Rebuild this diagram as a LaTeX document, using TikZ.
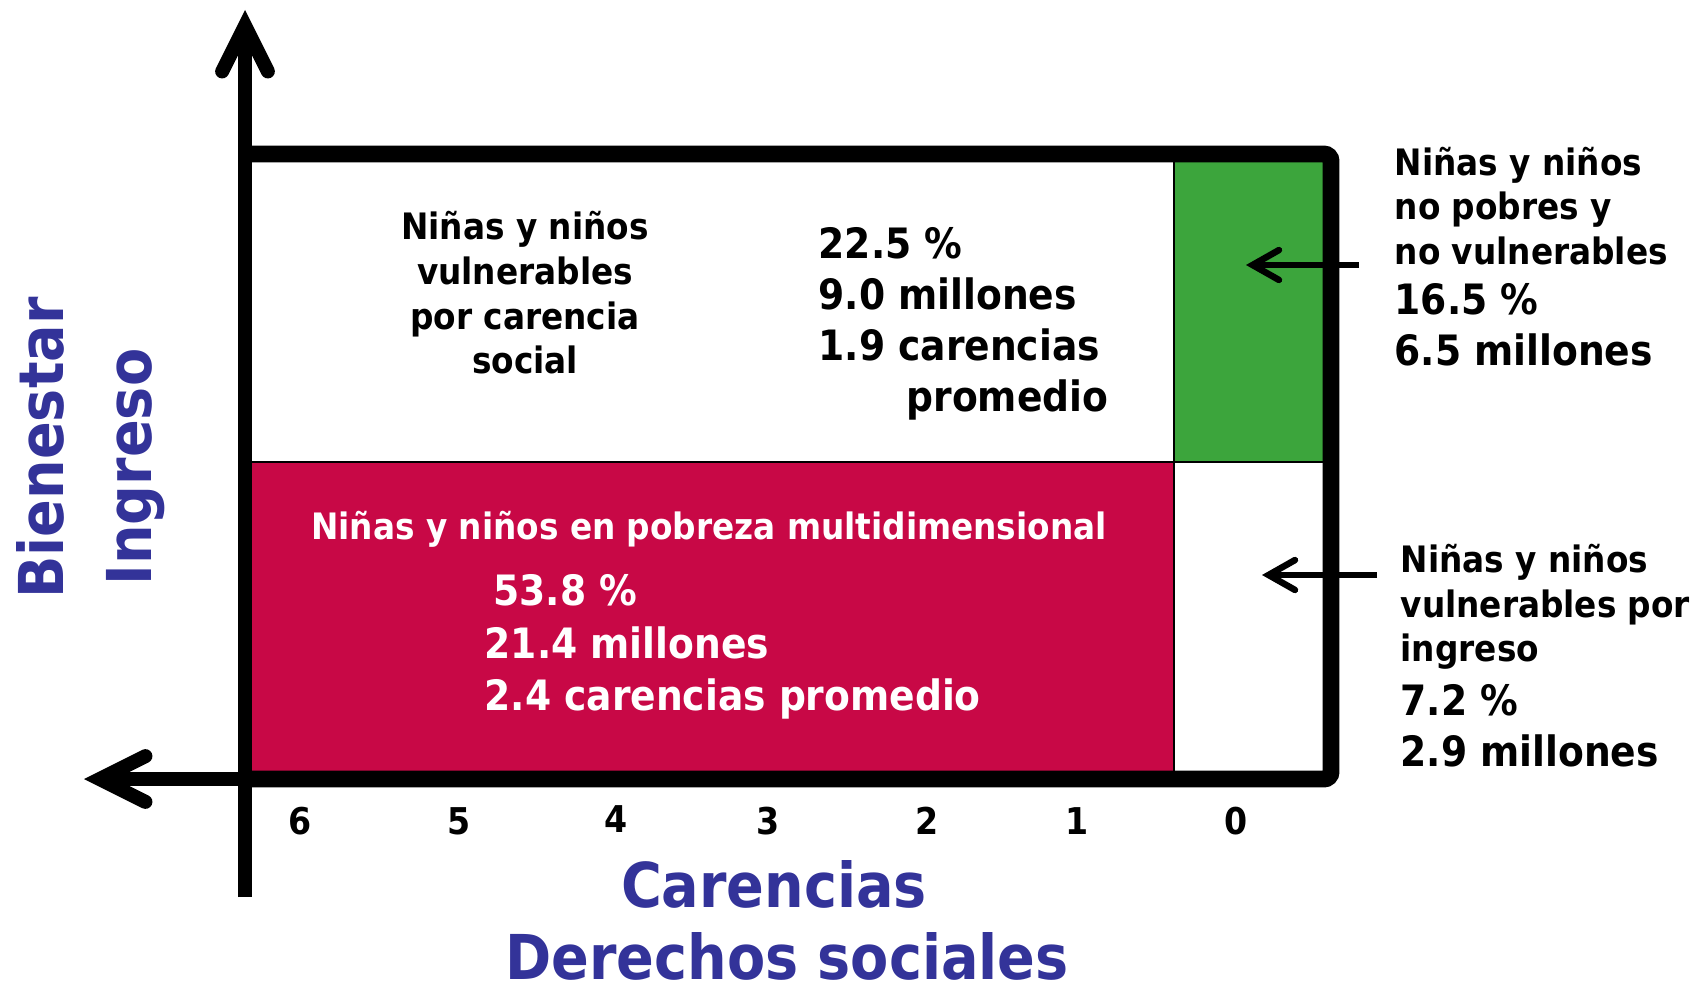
\documentclass[tikz,border=0pt]{standalone}
\usepackage{fontspec}
\setmainfont{DejaVu Sans Condensed}
\usetikzlibrary{arrows.meta}

\definecolor{pobreza}{RGB}{200,8,70}
\definecolor{verde}{RGB}{60,165,60}
\definecolor{azul}{RGB}{51,51,153}

\tikzset{
  etiqueta/.style={inner sep=0pt, align=center, font=\fontsize{10.35}{12.7}\selectfont\bfseries},
  cifras/.style={inner sep=0pt, align=left, font=\fontsize{11.9}{14.5}\selectfont\bfseries},
  numero/.style={inner sep=0pt, font=\fontsize{10.5}{12}\selectfont\bfseries},
  titulo/.style={inner sep=0pt, text=azul, font=\fontsize{17.6}{20}\selectfont\bfseries},
  eje/.style={line width=4pt, -{Straight Barb[length=13pt, width=13pt, line cap=round]}},
  flecha/.style={line width=1.85pt, -{Straight Barb[length=7.5pt, width=8.5pt, line cap=round]}}
}

\begin{document}
\begin{tikzpicture}
\useasboundingbox (0, 0) rectangle (16.94, 9.92);
% celdas
\fill[pobreza] (2.45, 2.13) rectangle (11.74, 5.30);
\fill[verde] (11.74, 5.30) rectangle (13.31, 8.38);
\draw[line width=0.6pt] (11.74, 2.13) -- (11.74, 8.38);
\draw[line width=0.6pt] (2.45, 5.30) -- (13.31, 5.30);
\draw[line width=4.8pt, rounded corners=2pt] (2.45, 8.38) -- (13.31, 8.38) -- (13.31, 2.13) -- (2.45, 2.13);
% ejes
\coordinate (origen) at (2.45, 2.13);
\coordinate (ybase) at (2.45, 0.95);
\coordinate (yfin) at (2.45, 9.82);
\coordinate (xfin) at (0.84, 2.13);
\draw[eje] (ybase) -- (yfin);
\draw[eje] (origen) -- (xfin);
% textos de las celdas
\node[etiqueta] (vulcar) at (5.25, 6.99) {Niñas y niños\\vulnerables\\por carencia\\social};
\node[cifras, anchor=west] (vulcarval) at (8.18, 6.68) {22.5 \%\\9.0 millones\\1.9 carencias\\\hspace*{2.1em}promedio};
\node[etiqueta, text=white] (pobtit) at (7.09, 4.63) {Niñas y niños en pobreza multidimensional};
\node[cifras, text=white, anchor=west, font=\fontsize{11.9}{15}\selectfont\bfseries] (pobval) at (4.84, 3.45) {\hspace*{2.5pt}53.8 \%\\21.4 millones\\2.4 carencias promedio};
% textos de la derecha
\node[etiqueta, align=left, anchor=west] (nopobtxt) at (13.94, 7.86) {Niñas y niños\\no pobres y\\no vulnerables};
\node[cifras, anchor=west] (nopobval) at (13.94, 6.67) {16.5 \%\\6.5 millones};
\node[etiqueta, align=left, anchor=west] (vulingtxt) at (14.00, 3.85) {Niñas y niños\\vulnerables por\\ingreso};
\node[cifras, anchor=west] (vulingval) at (14.00, 2.665) {7.2 \%\\2.9 millones};
\coordinate (nopobini) at (13.59, 7.27);
\coordinate (nopobfin) at (12.46, 7.27);
\coordinate (vulingini) at (13.77, 4.17);
\coordinate (vulingfin) at (12.62, 4.17);
\draw[flecha] (nopobini) -- (nopobfin);
\draw[flecha] (vulingini) -- (vulingfin);
% carencias
\node[numero] (c6) at (3.00, 1.71) {6};
\node[numero] (c5) at (4.59, 1.71) {5};
\node[numero] (c4) at (6.16, 1.73) {4};
\node[numero] (c3) at (7.68, 1.71) {3};
\node[numero] (c2) at (9.27, 1.71) {2};
\node[numero] (c1) at (10.77, 1.71) {1};
\node[numero] (c0) at (12.36, 1.71) {0};
% titulos de los ejes
\node[titulo, anchor=base] (carencias) at (7.74, 0.85) {Carencias};
\node[titulo, anchor=base] (derechos) at (7.87, 0.13) {Derechos sociales};
\node[titulo, anchor=base, rotate=90] (bienestar) at (0.63, 5.44) {Bienestar};
\node[titulo, anchor=base, rotate=90] (ingreso) at (1.51, 5.25) {Ingreso};
\end{tikzpicture}
\end{document}
